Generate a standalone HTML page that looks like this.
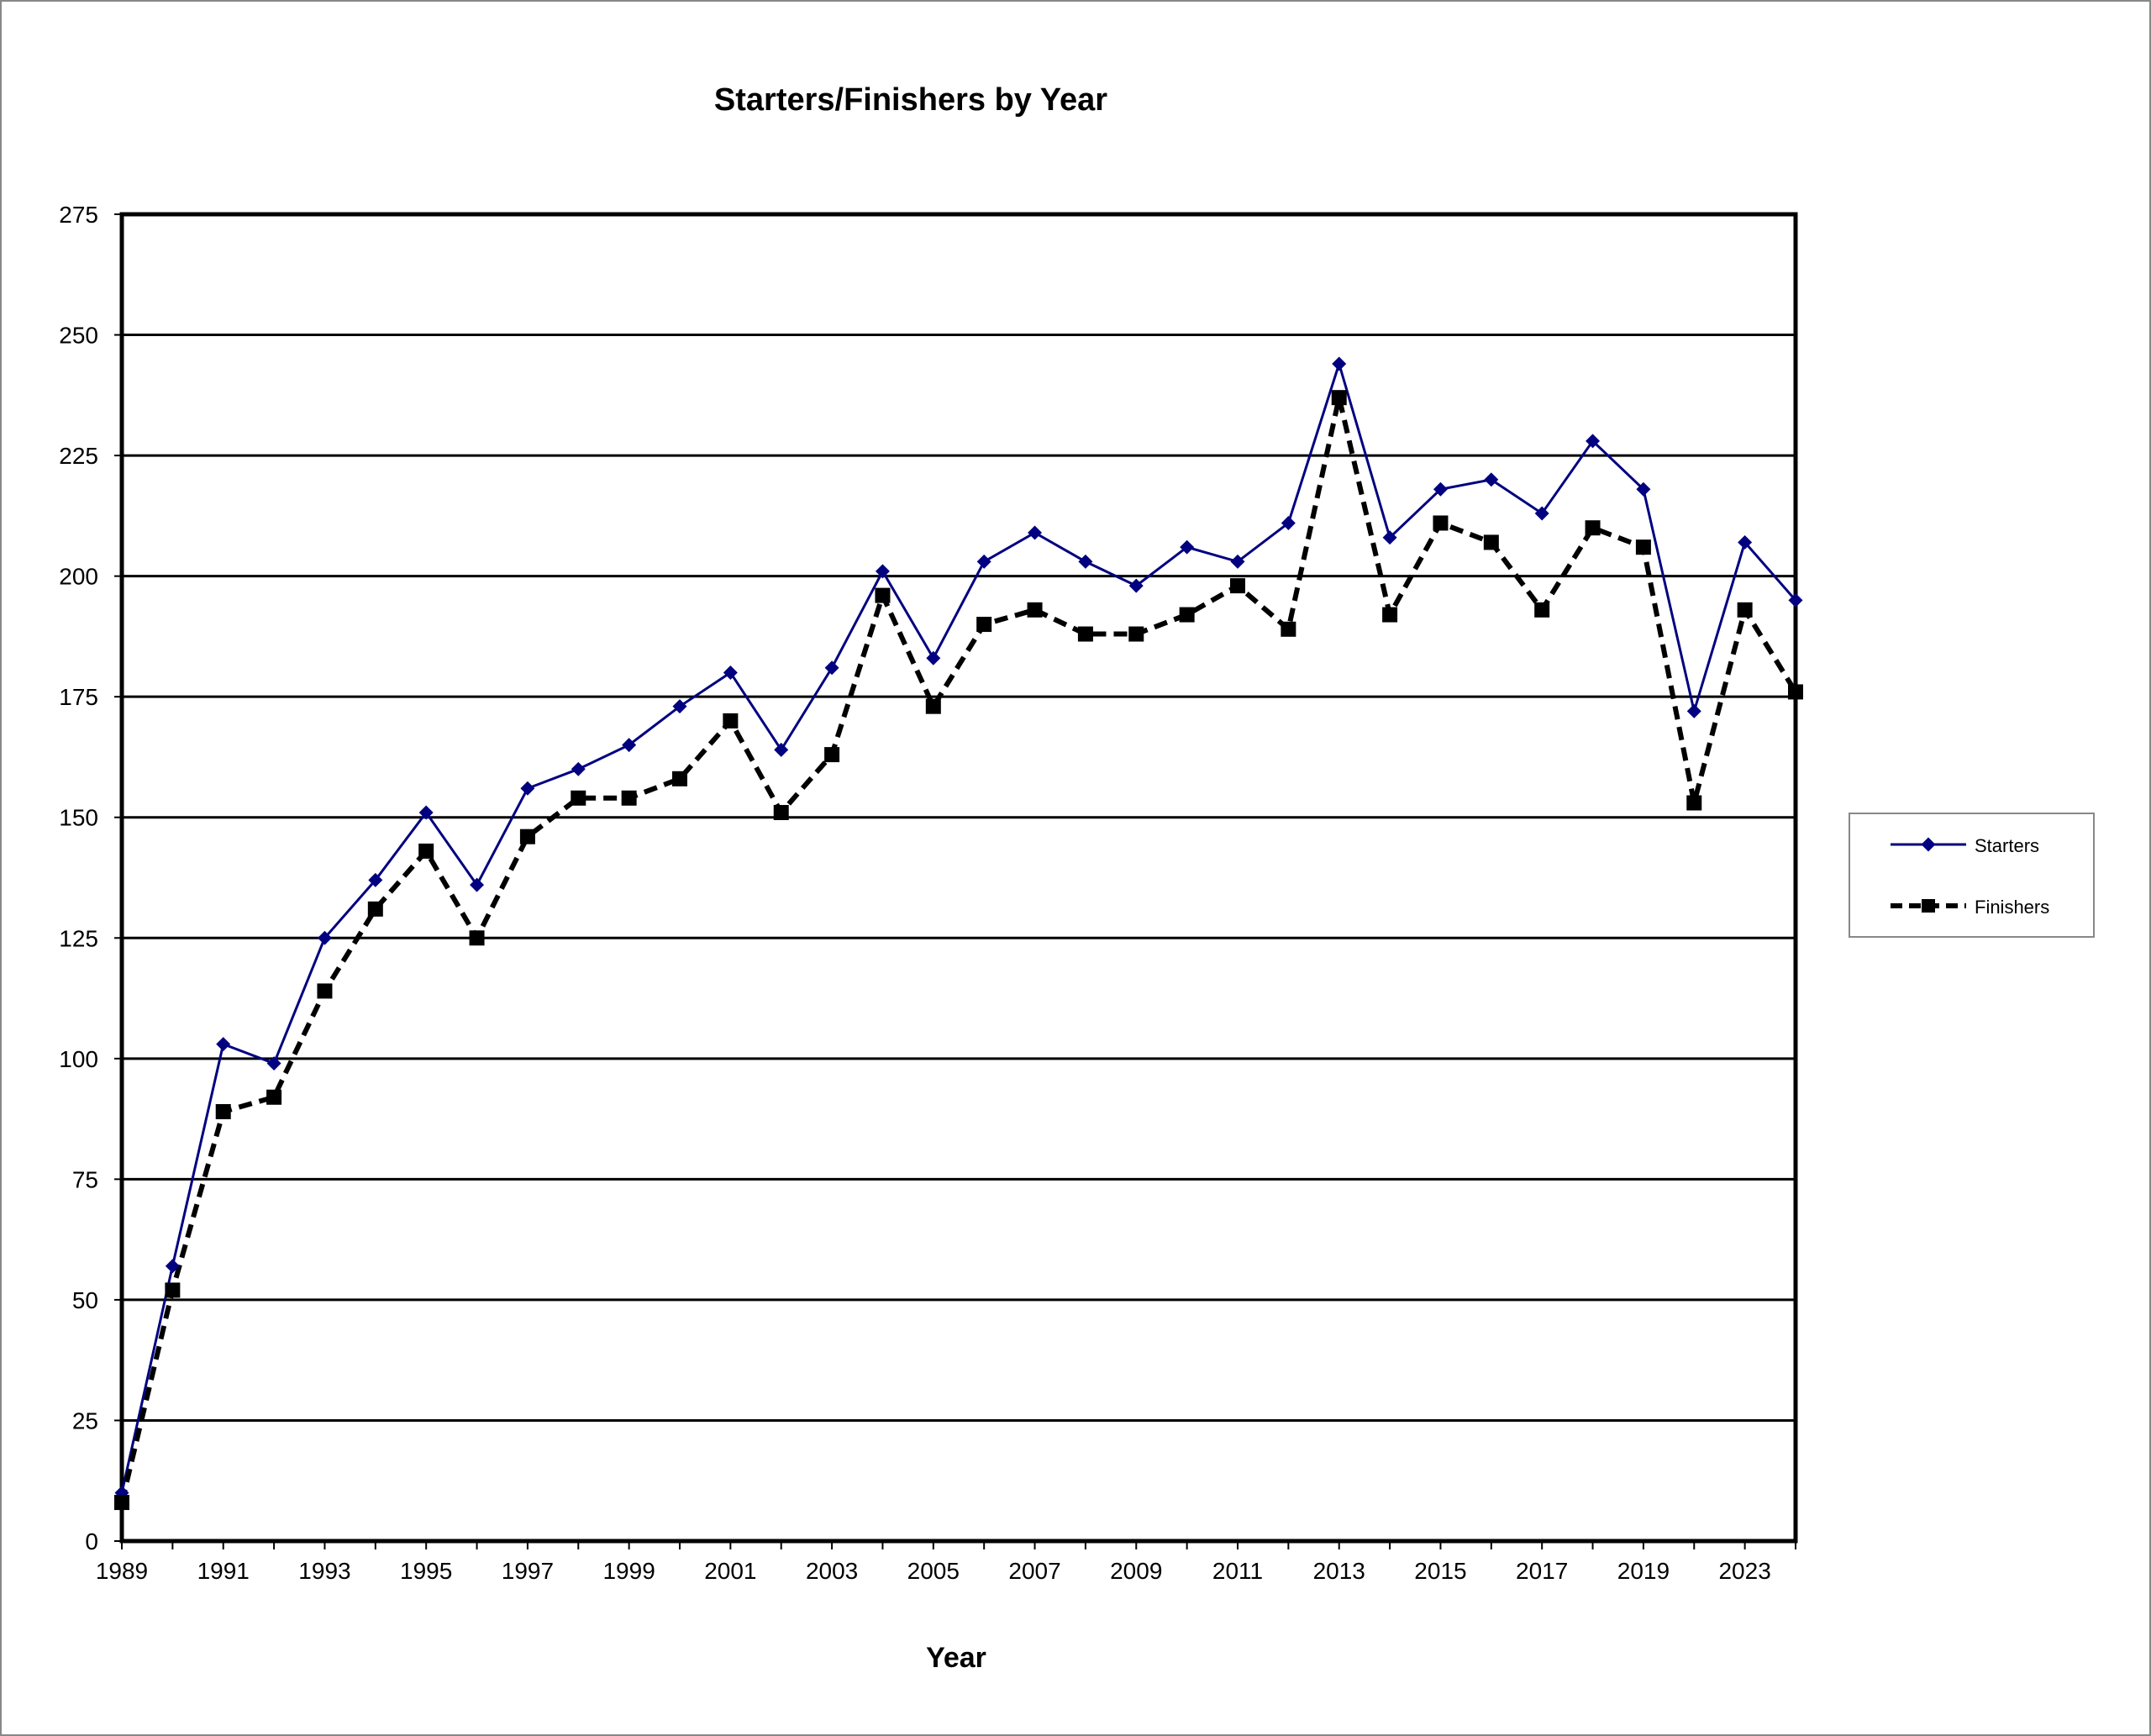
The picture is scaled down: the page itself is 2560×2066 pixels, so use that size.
<!DOCTYPE html>
<html><head><meta charset="utf-8"><style>
html,body{margin:0;padding:0;background:#fff}
svg{display:block;font-family:"Liberation Sans",Arial,sans-serif}
</style></head><body>
<svg id="chart" width="2560" height="2066" viewBox="0 0 2560 2066" xmlns="http://www.w3.org/2000/svg">
<rect x="1" y="1" width="2558" height="2064" fill="#fff" stroke="#888" stroke-width="2"/>
<text x="1084" y="131" font-size="38" font-weight="bold" text-anchor="middle">Starters/Finishers by Year</text>
<g id="grid"></g>
<g id="axes"></g>
<g id="series"></g>
<text x="1138" y="1984" font-size="34" font-weight="bold" text-anchor="middle">Year</text>
<g>
<rect x="2201" y="968" width="291" height="147" fill="#fff" stroke="#888" stroke-width="2"/>
<line x1="2250" y1="1005" x2="2340" y2="1005" stroke="#000080" stroke-width="3"/>
<rect x="2289" y="999" width="12" height="12" fill="#000080" transform="rotate(45 2295 1005)"/>
<text x="2350" y="1014" font-size="22">Starters</text>
<line x1="2250" y1="1078" x2="2340" y2="1078" stroke="#000" stroke-width="6" stroke-dasharray="14,8"/>
<rect x="2287" y="1070" width="16" height="16" fill="#000"/>
<text x="2350" y="1087" font-size="22">Finishers</text>
</g>
</svg>
<script>
const years = ["1989","1990","1991","1992","1993","1994","1995","1996","1997","1998","1999","2000","2001","2002","2003","2004","2005","2006","2007","2008","2009","2010","2011","2012","2013","2014","2015","2016","2017","2018","2019","2022","2023","2024"];
const starters = [10,57,103,99,125,137,151,136,156,160,165,173,180,164,181,201,183,203,209,203,198,206,203,211,244,208,218,220,213,228,218,172,207,195];
const finishers = [8,52,89,92,114,131,143,125,146,154,154,158,170,151,163,196,173,190,193,188,188,192,198,189,237,192,211,207,193,210,206,153,193,176];
const yTicks = [0,25,50,75,100,125,150,175,200,225,250,275];

const NS="http://www.w3.org/2000/svg";
const L=145,R=2137,T=255,B=1834,YMAX=275;
function xPos(i){return L+(R-L)*i/(years.length-1);}
function yPos(v){return B-(B-T)*v/YMAX;}
function mk(tag,attrs,parent){const e=document.createElementNS(NS,tag);for(const k in attrs)e.setAttribute(k,attrs[k]);parent.appendChild(e);return e;}
const grid=document.getElementById('grid'),axes=document.getElementById('axes'),series=document.getElementById('series');
yTicks.forEach(v=>{
  const y=yPos(v);
  const ln=mk('line',{x1:L,x2:R,y1:y,y2:y,stroke:'#000','stroke-width':3},grid);
  
  
  const tk=mk('line',{x1:L-9,x2:L,y1:y,y2:y,stroke:'#000','stroke-width':2},axes);
  
  
  const t=mk('text',{x:L-28,y:y+10,'font-size':28,'text-anchor':'end'},axes);
  t.textContent=v;
  
  
});
const frame=mk('rect',{x:L,y:T,width:R-L,height:B-T,fill:'none',stroke:'#000','stroke-width':5},axes);


years.forEach((yr,i)=>{
  const x=xPos(i);
  const tk=mk('line',{x1:x,x2:x,y1:B,y2:B+10,stroke:'#000','stroke-width':2},axes);
  
  
  if(i%2===0){
    const t=mk('text',{x:x,y:B+45,'font-size':28,'text-anchor':'middle'},axes);
    t.textContent=yr;
    
    
  }
});
const sp=mk('polyline',{points:starters.map((v,i)=>xPos(i)+','+yPos(v)).join(' '),fill:'none',stroke:'#000080','stroke-width':3},series);


const fp=mk('polyline',{points:finishers.map((v,i)=>xPos(i)+','+yPos(v)).join(' '),fill:'none',stroke:'#000','stroke-width':6,'stroke-dasharray':'16,9'},series);


starters.forEach((v,i)=>{
  const x=xPos(i),y=yPos(v);
  const m=mk('rect',{x:x-6,y:y-6,width:12,height:12,fill:'#000080',transform:'rotate(45 '+x+' '+y+')'},series);
  
  
});
finishers.forEach((v,i)=>{
  const x=xPos(i),y=yPos(v);
  const m=mk('rect',{x:x-9,y:y-9,width:18,height:18,fill:'#000'},series);
  
  
});
</script>
</body></html>
